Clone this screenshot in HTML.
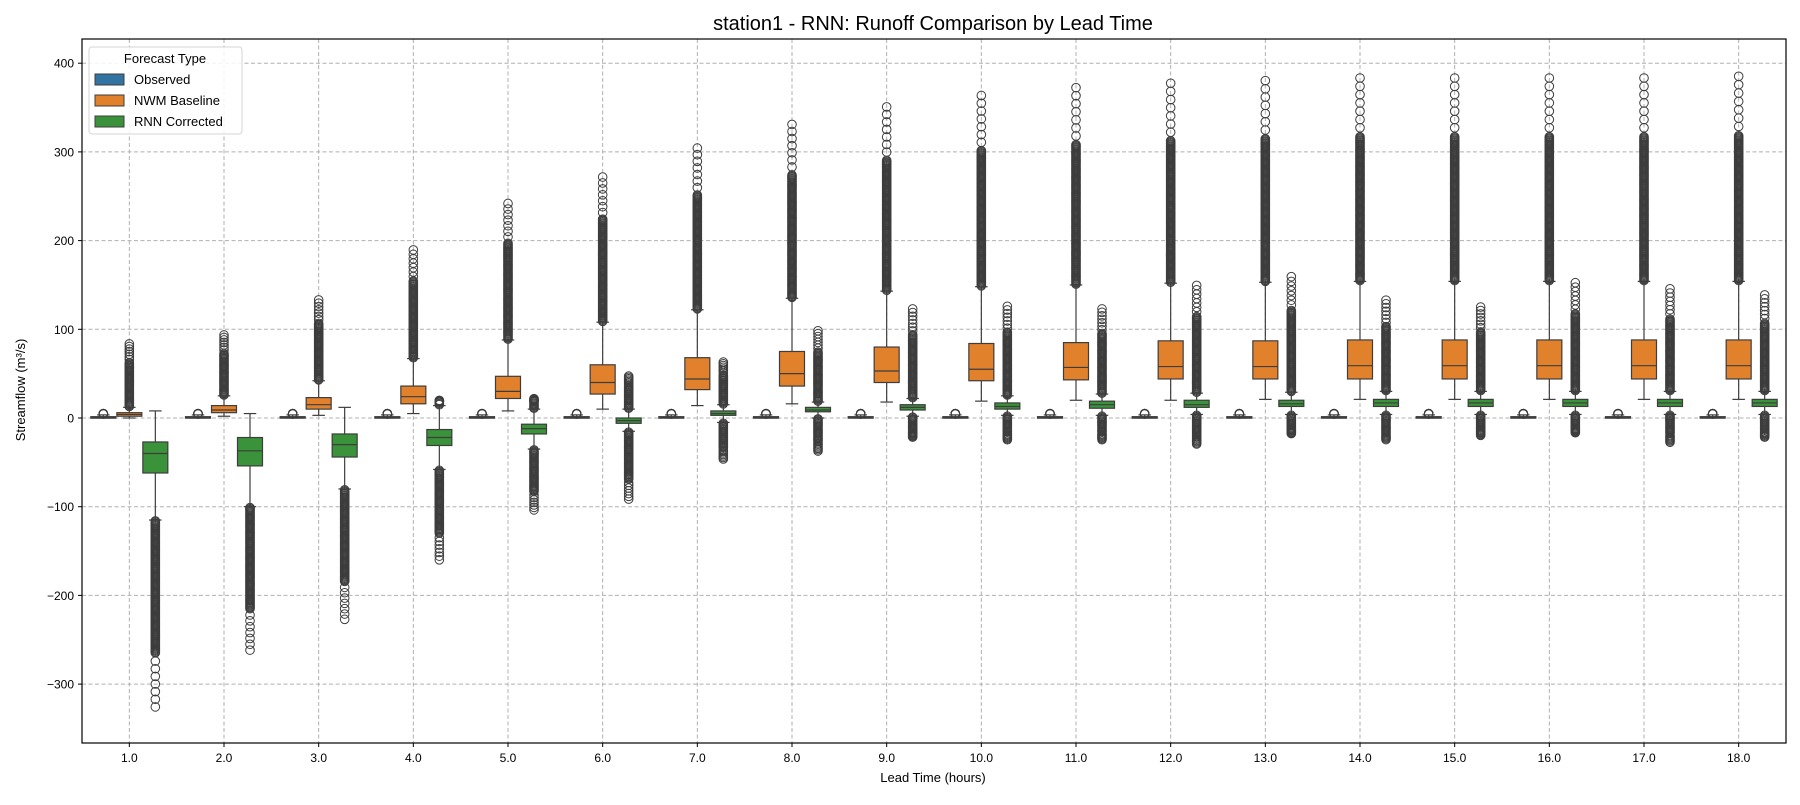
<!DOCTYPE html>
<html><head><meta charset="utf-8"><style>
body{margin:0;background:#fff;}
svg text{font-family:"Liberation Sans","DejaVu Sans",sans-serif;fill:#000;}
</style></head><body>
<svg id="chart" width="1800" height="800" xmlns="http://www.w3.org/2000/svg">
<text x="933" y="30" font-size="20" text-anchor="middle">station1 - RNN: Runoff Comparison by Lead Time</text>
<g id="grid"></g><g id="marks"></g><g id="axes"></g>
<text x="933" y="782" font-size="13" text-anchor="middle">Lead Time (hours)</text>
<text x="0" y="0" font-size="13" text-anchor="middle" transform="translate(25,390) rotate(-90)">Streamflow (m³/s)</text>
<g>
<rect x="89" y="47" width="153" height="87" rx="3" fill="#fff" fill-opacity="0.85" stroke="#d6d6d6"/>
<text x="165" y="63" font-size="13" text-anchor="middle">Forecast Type</text>
<g><rect x="95" y="74" width="29" height="11" fill="#3274a1" stroke="#3d3d3d"/><text x="134" y="84" font-size="13">Observed</text></g>
<g><rect x="95" y="95" width="29" height="11" fill="#e1812c" stroke="#3d3d3d"/><text x="134" y="105" font-size="13">NWM Baseline</text></g>
<g><rect x="95" y="116" width="29" height="11" fill="#3a923a" stroke="#3d3d3d"/><text x="134" y="126" font-size="13">RNN Corrected</text></g>
</g>
</svg>
<script>
const categories=["1.0","2.0","3.0","4.0","5.0","6.0","7.0","8.0","9.0","10.0","11.0","12.0","13.0","14.0","15.0","16.0","17.0","18.0"];
const yTicks=[-300,-200,-100,0,100,200,300,400];
// NWM baseline: q1, median, q3, whisker low, whisker high, outlier max
const nwmQ1=[2,6,10,16,22,27,32,36,40,42,43,44,44,44,44,44,44,44];
const nwmMed=[4,9,15,24,30,40,44,50,53,55,57,58,58,59,59,59,59,59];
const nwmQ3=[6,14,23,36,47,60,68,75,80,84,85,87,87,88,88,88,88,88];
const nwmLo=[0,2,3,5,8,10,14,16,18,19,20,20,21,21,21,21,21,21];
const nwmHi=[12,25,42,67,88,108,122,135,143,148,150,152,153,154,154,154,154,154];
const nwmOutMax=[85,95,135,192,245,275,308,335,355,368,377,382,385,388,388,388,388,390];
// RNN corrected
const rnnQ1=[-62,-54,-44,-31,-18,-6,3,7,9,10,11,12,13,13,13,13,13,13];
const rnnMed=[-40,-37,-30,-22,-12,-3,5,9,12,13,15,15,16,17,17,17,17,17];
const rnnQ3=[-27,-22,-18,-13,-7,0,8,12,15,17,19,20,20,21,21,21,21,21];
const rnnLo=[-115,-100,-80,-58,-35,-15,-5,0,2,3,3,4,4,4,4,4,4,4];
const rnnHi=[8,5,12,14,10,10,15,18,22,25,27,28,29,30,30,30,30,30];
const rnnOutMin=[-330,-265,-230,-162,-105,-93,-47,-38,-22,-25,-25,-30,-18,-25,-20,-17,-28,-22];
const rnnOutMax=[8,5,12,20,22,48,64,100,125,128,125,152,162,135,127,155,148,141];
// Observed
const obsQ1=[0,0,0,0,0,0,0,0,0,0,0,0,0,0,0,0,0,0];
const obsMed=[0.5,0.5,0.5,0.5,0.5,0.5,0.5,0.5,0.5,0.5,0.5,0.5,0.5,0.5,0.5,0.5,0.5,0.5];
const obsQ3=[1.5,1.5,1.5,1.5,1.5,1.5,1.5,1.5,1.5,1.5,1.5,1.5,1.5,1.5,1.5,1.5,1.5,1.5];
const obsHi=[3.5,3.5,3.5,3.5,3.5,3.5,3.5,3.5,3.5,3.5,3.5,3.5,3.5,3.5,3.5,3.5,3.5,3.5];
const obsOutMax=[5,5,5,5,5,5,5,5,5,5,5,5,5,5,5,5,5,5];

const NS="http://www.w3.org/2000/svg";
const L=82,R=1786,T=39,B=743;
const catW=(R-L)/categories.length;
const X=i=>L+catW*(i+0.5);
const Y=v=>418-v*0.887;
const grid=document.getElementById('grid'),marks=document.getElementById('marks'),axes=document.getElementById('axes');
function mk(tag,attrs,parent){const e=document.createElementNS(NS,tag);for(const k in attrs)e.setAttribute(k,attrs[k]);parent.appendChild(e);return e;}

yTicks.forEach(v=>{
  const g=mk('line',{x1:L,x2:R,y1:Y(v),y2:Y(v),stroke:'#b0b0b0','stroke-dasharray':'4,2.5','stroke-width':1},grid);
  
  
  mk('line',{x1:L-4,x2:L,y1:Y(v),y2:Y(v),stroke:'#000'},axes);
  const tx=mk('text',{x:L-8,y:Y(v)+4.5,'font-size':12,'text-anchor':'end'},axes);
  tx.textContent=v===0?'0':(v<0?'\u2212'+(-v):String(v));
  
  
});
categories.forEach((c,i)=>{
  const g=mk('line',{x1:X(i),x2:X(i),y1:T,y2:B,stroke:'#b0b0b0','stroke-dasharray':'4,2.5','stroke-width':1},grid);
  
  
  mk('line',{x1:X(i),x2:X(i),y1:B,y2:B+4,stroke:'#000'},axes);
  const tx=mk('text',{x:X(i),y:B+19,'font-size':12,'text-anchor':'middle'},axes);
  tx.textContent=c;
  
  
});
mk('rect',{x:L,y:T,width:R-L,height:B-T,fill:'none',stroke:'#000','stroke-width':1.2},axes);

const BW=25,OFF=26,EC='#3d3d3d';
function outliers(g,cx,from,to){
  if(Math.abs(to-from)<0.5)return;
  const span=Math.abs(to-from),dir=to>from?1:-1;
  const dense=span*0.7;
  for(let d=1;d<=dense;d+=1.2)mk('circle',{cx:cx,cy:Y(from+dir*d),r:4.3,fill:'none',stroke:EC,'stroke-width':1},g);
  for(let f=0.74;f<=1.001;f+=0.04)mk('circle',{cx:cx,cy:Y(from+dir*span*f),r:4.3,fill:'none',stroke:EC,'stroke-width':1},g);
}
function box(name,cx,q1,med,q3,lo,hi,fill,outLo,outHi){
  const g=mk('g',{},marks);
  
  
  if(outHi!=null&&outHi>hi)outliers(g,cx,hi,outHi);
  if(outLo!=null&&outLo<lo)outliers(g,cx,lo,outLo);
  mk('line',{x1:cx,x2:cx,y1:Y(hi),y2:Y(q3),stroke:EC,'stroke-width':1.2},g);
  mk('line',{x1:cx,x2:cx,y1:Y(lo),y2:Y(q1),stroke:EC,'stroke-width':1.2},g);
  mk('line',{x1:cx-BW/4,x2:cx+BW/4,y1:Y(hi),y2:Y(hi),stroke:EC,'stroke-width':1.2},g);
  mk('line',{x1:cx-BW/4,x2:cx+BW/4,y1:Y(lo),y2:Y(lo),stroke:EC,'stroke-width':1.2},g);
  const h=Math.max(Y(q1)-Y(q3),1.5);
  mk('rect',{x:cx-BW/2,y:Y(q3),width:BW,height:h,fill:fill,stroke:EC,'stroke-width':1.2},g);
  mk('line',{x1:cx-BW/2,x2:cx+BW/2,y1:Y(med),y2:Y(med),stroke:EC,'stroke-width':1.2},g);
}
categories.forEach((c,i)=>{
  box('box-observed-'+c,X(i)-OFF,obsQ1[i],obsMed[i],obsQ3[i],obsQ1[i],obsHi[i],'#3274a1',null,obsOutMax[i]);
  box('box-nwm-'+c,X(i),nwmQ1[i],nwmMed[i],nwmQ3[i],nwmLo[i],nwmHi[i],'#e1812c',null,nwmOutMax[i]);
  box('box-rnn-'+c,X(i)+OFF,rnnQ1[i],rnnMed[i],rnnQ3[i],rnnLo[i],rnnHi[i],'#3a923a',rnnOutMin[i],rnnOutMax[i]);
});
</script>
</body></html>
